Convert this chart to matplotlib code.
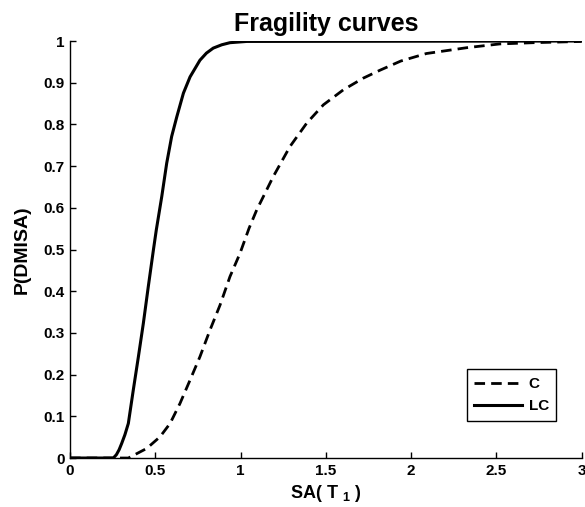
import numpy as np
import matplotlib.pyplot as plt

plt.rcParams['font.family'] = ['Liberation Sans', 'DejaVu Sans']
plt.rcParams['font.weight'] = 'bold'
plt.rcParams['mathtext.fontset'] = 'custom'
plt.rcParams['mathtext.bf'] = 'Liberation Sans:bold'

# values
sa_c = [0.0, 0.342, 0.45, 0.528, 0.587, 0.645, 0.704, 0.762, 0.821, 0.88, 0.938, 0.997,
        1.05, 1.095, 1.192, 1.29, 1.388, 1.486, 1.603, 1.72, 1.818, 1.94, 2.09,
        2.327, 2.52, 2.716, 3.0]
p_c = [0.0, 0.0, 0.023, 0.051, 0.083, 0.131, 0.187, 0.243, 0.307, 0.367, 0.435, 0.491,
       0.551, 0.595, 0.675, 0.747, 0.803, 0.847, 0.883, 0.911, 0.93, 0.952, 0.97,
       0.984, 0.993, 0.996, 0.999]

sa_lc = [0.0, 0.254, 0.272, 0.288, 0.303, 0.322, 0.342, 0.371, 0.401, 0.43, 0.459,
         0.489, 0.506, 0.538, 0.567, 0.596, 0.626, 0.665, 0.704, 0.762, 0.80, 0.84,
         0.89, 0.938, 1.036, 3.0]
p_lc = [0.0, 0.0, 0.008, 0.02, 0.035, 0.056, 0.083, 0.163, 0.243, 0.323, 0.411,
        0.499, 0.547, 0.627, 0.707, 0.771, 0.818, 0.875, 0.914, 0.954, 0.971, 0.983,
        0.991, 0.996, 0.999, 1.0]

xticks = [0, 0.5, 1, 1.5, 2, 2.5, 3]
xticklabels = ['0', '0.5', '1', '1.5', '2', '2.5', '3']
yticks = [0, 0.1, 0.2, 0.3, 0.4, 0.5, 0.6, 0.7, 0.8, 0.9, 1]
yticklabels = ['0', '0.1', '0.2', '0.3', '0.4', '0.5', '0.6', '0.7', '0.8', '0.9', '1']

fig = plt.figure(figsize=(5.85, 5.07), dpi=100)
ax = fig.add_axes([0.1197, 0.0966, 0.8744, 0.8225])

ax.plot(sa_c, p_c, color='black', lw=2, linestyle=(0, (3.8, 2.2)), label='C')
ax.plot(sa_lc, p_lc, color='black', lw=2.2, label='LC')

ax.set_xlim(0, 3)
ax.set_ylim(0, 1)
ax.set_xticks(xticks)
ax.set_xticklabels(xticklabels)
ax.set_yticks(yticks)
ax.set_yticklabels(yticklabels)
ax.tick_params(direction='in', length=4, width=1, labelsize=11, pad=4)
for lab in ax.get_xticklabels() + ax.get_yticklabels():
    lab.set_fontweight('bold')

ax.spines['top'].set_visible(False)
ax.spines['right'].set_visible(False)
ax.spines['left'].set_linewidth(1)
ax.spines['bottom'].set_linewidth(1)

ax.set_title('Fragility curves', fontsize=18, fontweight='bold', pad=7)
ax.set_xlabel(r'SA( T $_{\mathbf{1}}$ )', fontsize=13, fontweight='bold', labelpad=4)
ax.set_ylabel('P(DMISA)', fontsize=14, fontweight='bold', labelpad=9)

leg = ax.legend(loc='lower right', bbox_to_anchor=(0.951, 0.089), fancybox=False,
                edgecolor='black', framealpha=1, fontsize=11, handlelength=3.1,
                handletextpad=0.45, borderpad=0.5, labelspacing=0.55,
                borderaxespad=0)
leg.get_frame().set_linewidth(1)
for t in leg.get_texts():
    t.set_fontweight('bold')

fig.savefig('out.png', dpi=100)
